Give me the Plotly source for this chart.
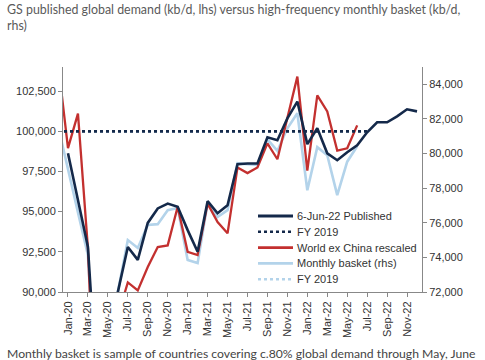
import plotly.graph_objects as go

# Month categories (Dec-19 point is partly clipped at the left edge in the reference)
months = ["Dec-19",
          "Jan-20", "Feb-20", "Mar-20", "Apr-20", "May-20", "Jun-20", "Jul-20", "Aug-20", "Sep-20", "Oct-20", "Nov-20", "Dec-20",
          "Jan-21", "Feb-21", "Mar-21", "Apr-21", "May-21", "Jun-21", "Jul-21", "Aug-21", "Sep-21", "Oct-21", "Nov-21", "Dec-21",
          "Jan-22", "Feb-22", "Mar-22", "Apr-22", "May-22", "Jun-22", "Jul-22", "Aug-22", "Sep-22", "Oct-22", "Nov-22", "Dec-22"]
tick_labels = months[1::2]

# 6-Jun-22 Published (kb/d, lhs): Jan-20 .. Dec-22
published_x = months[1:]
published = [98630, 95700, 92800, 83000, 86500, 90000, 92800, 92000, 94300, 95200, 95500, 95300,
             93850, 92500, 95650, 94900, 95400, 97950, 98000, 98000, 99630, 99440, 100800, 101850,
             99200, 100190, 98630, 98200, 98700, 99130, 99940, 100560, 100560, 100930, 101370, 101240]

# FY 2019 (lhs), Dec-19 .. Jul-22
fy2019_lhs_x = months[0:32]
fy2019_lhs = [100000] * len(fy2019_lhs_x)

# World ex China rescaled (kb/d, lhs): Dec-19 .. Jun-22
world_ex_china_x = months[0:31]
world_ex_china = [104300, 98950, 101100, 92700, 78000, 84000, 88500, 90600, 90100, 91550, 92800, 92900, 95300,
                  92500, 92300, 95500, 94350, 93650, 97750, 97400, 97750, 99250, 98260, 100870, 103400,
                  97550, 102240, 101230, 98800, 98940, 100370]

# Monthly basket (kb/d, rhs): Dec-19 .. Jun-22
basket_x = months[0:31]
basket = [81600, 79040, 76600, 74130, 64000, 67000, 72000, 75000, 74540, 75870, 75920, 76730, 76850,
          73850, 73670, 77130, 76330, 76730, 79440, 79380, 79350, 80820, 80150, 81460, 82330,
          77880, 80370, 79900, 77600, 79530, 80420]

# FY 2019 (rhs)
fy2019_rhs_x = months[0:32]
fy2019_rhs = [81286] * len(fy2019_rhs_x)

left_ticks = [90000, 92500, 95000, 97500, 100000, 102500]
right_ticks = [72000, 74000, 76000, 78000, 80000, 82000, 84000]

series_names = ["6-Jun-22 Published", "FY 2019", "World ex China rescaled", "Monthly basket (rhs)", "FY 2019"]

NAVY = "#14294a"
RED = "#c3302f"
LIGHT = "#b3d3ea"
styles = [(NAVY, "solid", 2.8), (NAVY, "dot", 2.6), (RED, "solid", 2.6), (LIGHT, "solid", 2.8), (LIGHT, "dot", 2.6)]

W, H = 485, 360
L, R, T, B = 63, 63, 67, 68
PW, PH = W - L - R, H - T - B


def px(xp):
    return (xp - L) / PW


def py(yp):
    return (H - B - yp) / PH


fig = go.Figure()
# rhs series live on "y" (drawn underneath); lhs series on overlaying "y2" (drawn on top)
fig.add_trace(go.Scatter(x=basket_x, y=basket, mode="lines", name=series_names[3],
                         line=dict(color=LIGHT, width=2.6), yaxis="y", showlegend=False))
fig.add_trace(go.Scatter(x=fy2019_rhs_x, y=fy2019_rhs, mode="lines", name=series_names[4],
                         line=dict(color=LIGHT, width=2.7, dash="dot"), yaxis="y", showlegend=False))
fig.add_trace(go.Scatter(x=world_ex_china_x, y=world_ex_china, mode="lines", name=series_names[2],
                         line=dict(color=RED, width=2.3), yaxis="y2", showlegend=False))
fig.add_trace(go.Scatter(x=fy2019_lhs_x, y=fy2019_lhs, mode="lines", name=series_names[1],
                         line=dict(color=NAVY, width=2.7, dash="dot"), yaxis="y2", showlegend=False))
fig.add_trace(go.Scatter(x=published_x, y=published, mode="lines", name=series_names[0],
                         line=dict(color=NAVY, width=2.6), yaxis="y2", showlegend=False))

axis_font = dict(family="Liberation Sans, Arial, sans-serif", size=11, color="#333333")
text_font = "Lato, sans-serif"

# Legend drawn as in the reference (compact spacing)
shapes = []
annotations = []
leg_y0, leg_dy = 216, 15.8
for i, (name, (col, dash, wd)) in enumerate(zip(series_names, styles)):
    yy = leg_y0 + i * leg_dy
    shapes.append(dict(type="line", xref="paper", yref="paper", x0=px(258), x1=px(293), y0=py(yy), y1=py(yy),
                       line=dict(color=col, width=wd, dash=dash)))
    annotations.append(dict(text=name, xref="paper", yref="paper", x=px(295), y=py(yy),
                            xanchor="left", yanchor="middle", showarrow=False,
                            font=dict(family="Liberation Sans, Arial, sans-serif", size=11, color="#333333")))

annotations.append(dict(text="GS published global demand (kb/d, lhs) versus high-frequency monthly basket (kb/d,<br>rhs)",
                        xref="paper", yref="paper", x=px(5), y=py(0), xanchor="left", yanchor="top",
                        align="left", showarrow=False,
                        font=dict(family=text_font, size=12.4, color="#5a5a5a")))
annotations.append(dict(text="Monthly basket is sample of countries covering c.80% global demand through May, June",
                        xref="paper", yref="paper", x=px(5), y=py(353), xanchor="left", yanchor="middle",
                        align="left", showarrow=False,
                        font=dict(family=text_font, size=12.2, color="#444444")))

fig.update_layout(
    width=W, height=H,
    margin=dict(l=L, r=R, t=T, b=B, autoexpand=False),
    paper_bgcolor="white", plot_bgcolor="white",
    showlegend=False,
    xaxis=dict(type="category", categoryorder="array", categoryarray=months,
               range=[0.5, 36.5], tickmode="array", tickvals=tick_labels, ticktext=tick_labels,
               tickangle=-90, showgrid=False, showline=True, linecolor="#888888", linewidth=1,
               ticks="outside", ticklen=4, tickcolor="#888888", tickfont=axis_font, zeroline=False),
    yaxis=dict(range=[72000, 85000], tickvals=right_ticks, tickformat=",d", side="right",
               showgrid=False, showline=True, linecolor="#888888", linewidth=1,
               ticks="outside", ticklen=4, tickcolor="#888888", tickfont=axis_font, zeroline=False),
    yaxis2=dict(range=[90000, 104000], tickvals=left_ticks, tickformat=",d", overlaying="y", side="left",
                showgrid=False, showline=True, linecolor="#888888", linewidth=1,
                ticks="outside", ticklen=4, tickcolor="#888888", tickfont=axis_font, zeroline=False),
    shapes=shapes,
    annotations=annotations,
)

fig.write_html("out.html", config={"displayModeBar": False},
               post_script="document.body.style.margin='0px';document.body.style.overflow='hidden';")
